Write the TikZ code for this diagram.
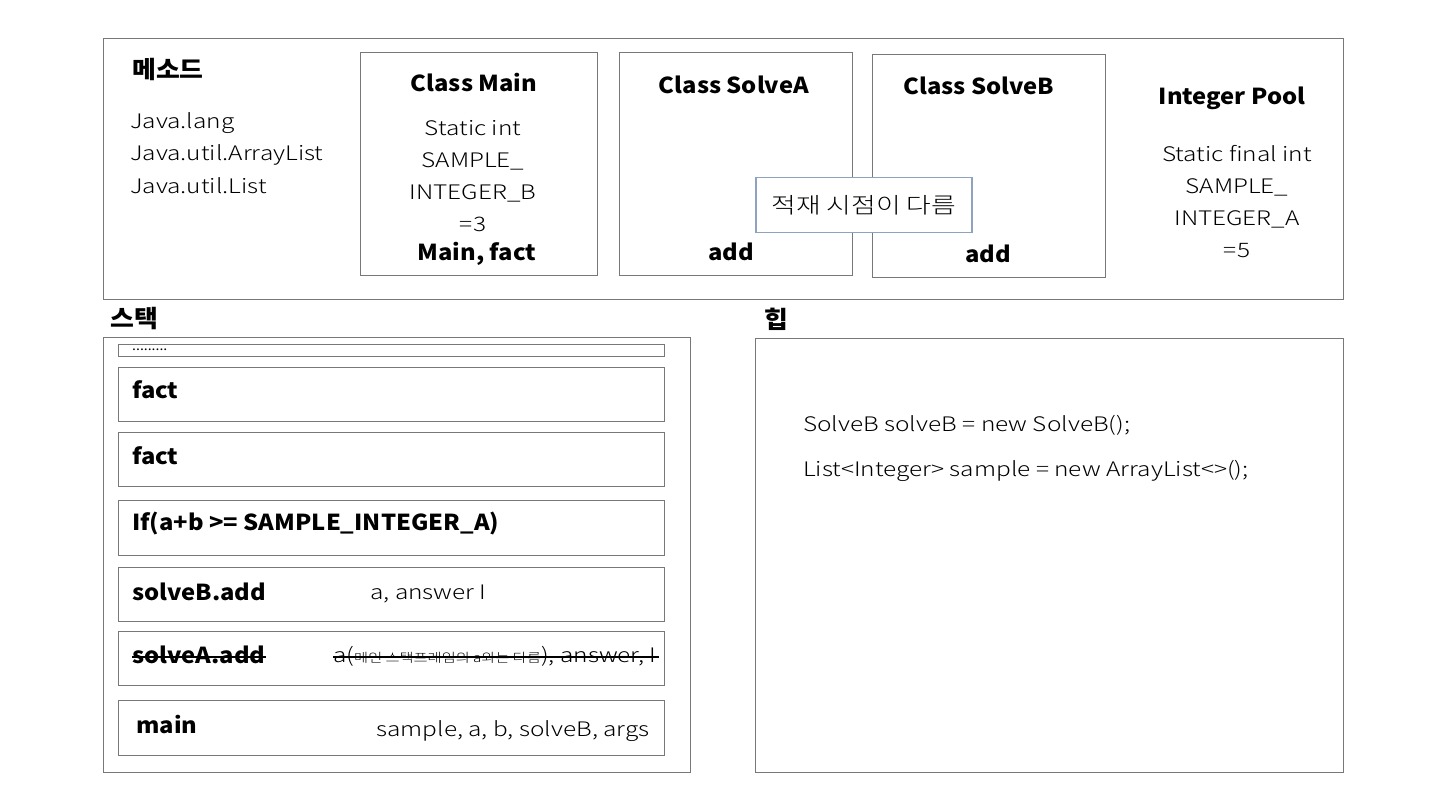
\documentclass[tikz,border=0pt]{standalone}
\usepackage{fontspec}
\setmainfont{Noto Sans CJK KR Light}[FakeStretch=1.22]
\newfontfamily\bd{Noto Sans CJK KR}[FakeStretch=1.08]
\definecolor{notecol}{RGB}{143,163,191}
\definecolor{linecol}{RGB}{120,120,120}
\begin{document}
\begin{tikzpicture}[x=1pt,y=-1pt,
  box/.style={draw=linecol,line width=1.2pt,fill=white,inner sep=0pt,anchor=north west},
  hd/.style={font=\bd\fontsize{22}{26}\selectfont\bfseries,inner sep=0pt},
  kh/.style={font=\bd\fontsize{24}{28}\selectfont\bfseries,inner sep=0pt,anchor=west},
  tx/.style={font=\fontsize{20}{32}\selectfont,inner sep=0pt,align=center},
  rt/.style={font=\fontsize{20}{24}\selectfont,inner sep=0pt},
  lbl/.style={font=\bd\fontsize{22}{26}\selectfont\bfseries,inner sep=0pt,anchor=west},
  strike/.style={line width=1.3pt,black}]
\useasboundingbox (0,0) rectangle (1440,810);
% top area
\node[box,minimum width=1240pt,minimum height=261pt] (top) at (103,38) {};
\node[kh] (meth) at (132,70) {메소드};
\node[font=\fontsize{20}{32.5}\selectfont,inner sep=0pt,align=left,anchor=north west] (pkgs) at (130,112) {Java.lang\\Java.util.ArrayList\\Java.util.List};
\node[box,minimum width=237pt,minimum height=223pt] (cmain) at (360,52) {};
\node[hd] (cmainT) at (474,83) {Class Main};
\node[tx,anchor=north] (cmainV) at (473,120) {Static int\\SAMPLE\_\\INTEGER\_B\\=3};
\node[hd] (cmainM) at (477,254) {Main, fact};
\node[box,minimum width=233pt,minimum height=223pt] (csa) at (619,52) {};
\node[hd] (csaT) at (734,85) {Class SolveA};
\node[hd] (csaM) at (731,252) {add};
\node[box,minimum width=233pt,minimum height=223pt] (csb) at (872,54) {};
\node[hd] (csbT) at (979,86) {Class SolveB};
\node[hd] (csbM) at (988,254) {add};
\node[hd] (pool) at (1232,98) {Integer Pool};
\node[tx,anchor=north] (poolV) at (1237,145) {Static final int\\SAMPLE\_\\INTEGER\_A\\=5};
\node[draw=notecol,line width=1.2pt,fill=white,minimum width=216pt,minimum height=55pt,inner sep=0pt,font=\fontsize{22}{26}\selectfont] (note) at (864,205) {적재 시점이 다름};
% stack
\node[kh] (stackL) at (110,319) {스택};
\node[box,minimum width=587pt,minimum height=435pt] (stack) at (103,337) {};
\node[box,line width=1pt,minimum width=546pt,minimum height=12pt] (f0) at (118,344) {};
\node[font=\bd\fontsize{13}{13}\selectfont,inner sep=0pt,anchor=base west] (dots) at (132,350) {.........};
\node[box,minimum width=546pt,minimum height=54pt] (f1) at (118,367) {};
\node[lbl] (f1L) at (132,390) {fact};
\node[box,minimum width=546pt,minimum height=54pt] (f2) at (118,432) {};
\node[lbl] (f2L) at (132,456) {fact};
\node[box,minimum width=546pt,minimum height=55pt] (f3) at (118,500) {};
\node[lbl] (f3L) at (132,524) {If(a+b >= SAMPLE\_INTEGER\_A)};
\node[box,minimum width=546pt,minimum height=54pt] (f4) at (118,567) {};
\node[lbl] (f4L) at (132,592) {solveB.add};
\node[rt,anchor=west] (f4R) at (370,594) {a, answer I};
\node[box,minimum width=546pt,minimum height=54pt] (f5) at (118,631) {};
\node[lbl] (f5L) at (132,655) {solveA.add};
\node[rt,anchor=west] (f5R) at (333,656) {a({\fontsize{12.5}{14}\selectfont 메인 스택프레임의 a와는 다름}), answer, I};
\draw[strike] ([yshift=-2pt]f5L.west) -- ([yshift=-2pt]f5L.east);
\draw[strike] ([yshift=-1pt]f5R.west) -- ([xshift=2pt,yshift=-1pt]f5R.east);
\node[box,minimum width=546pt,minimum height=55pt] (f6) at (118,700) {};
\node[lbl] (f6L) at (136,725) {main};
\node[rt,anchor=east] (f6R) at (650,731) {sample, a, b, solveB, args};
% heap
\node[kh] (heapL) at (764,319) {힙};
\node[box,minimum width=588pt,minimum height=434pt] (heap) at (755,338) {};
\node[rt,anchor=west] (h1) at (803,425) {SolveB solveB = new SolveB();};
\node[rt,anchor=west] (h2) at (803,471) {List<Integer> sample = new ArrayList<>();};
\end{tikzpicture}
\end{document}
